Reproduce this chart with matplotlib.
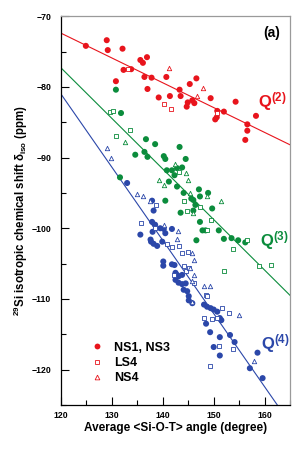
import matplotlib
matplotlib.use("Agg")
import matplotlib.pyplot as plt
from matplotlib.ticker import MultipleLocator
from matplotlib.lines import Line2D

plt.rcParams['font.family'] = ['Liberation Sans', 'DejaVu Sans']
plt.rcParams['mathtext.fontset'] = 'custom'
plt.rcParams['mathtext.rm'] = 'Liberation Sans'
plt.rcParams['mathtext.bf'] = 'Liberation Sans:bold'
plt.rcParams['mathtext.it'] = 'Liberation Sans:italic:bold'

RED = '#e8141c'
GREEN = '#0b8c3c'
BLUE = '#2b47a9'

# ---------------- Q(2) (red) ----------------
q2_ns13_x = [124.9, 129.0, 129.2, 132.1, 132.3, 133.8, 135.6, 136.1, 136.9, 136.4, 137.8, 130.8,
             137.0, 139.2, 140.7, 141.4, 143.3, 143.5, 145.3, 146.6, 144.9, 144.7, 145.8, 146.2,
             149.4, 154.3, 150.7, 152.0, 150.6, 150.3, 158.3, 156.6, 156.6, 156.2]
q2_ns13_y = [-74.2, -73.4, -74.8, -74.6, -77.6, -77.5, -76.2, -76.6, -75.8, -78.6, -78.7, -79.2,
             -80.3, -81.5, -78.6, -81.3, -80.4, -81.3, -79.6, -78.8, -82.2, -82.8, -81.9, -82.3,
             -81.6, -82.1, -83.4, -83.5, -84.3, -84.6, -84.1, -85.3, -86.2, -87.5]
q2_ls4_x = [133.2, 140.3, 141.6, 150.7]
q2_ls4_y = [-77.5, -82.4, -83.1, -83.7]
q2_ns4_x = [141.2, 147.9, 146.8]
q2_ns4_y = [-77.4, -80.1, -81.3]

# ---------------- Q(3) (green) ----------------
q3_ns13_x = [130.8, 131.8, 136.7, 138.5, 143.3, 131.6, 134.6, 136.4, 137.0,
             140.2, 140.5, 144.5, 140.8, 141.8, 142.8, 143.8, 142.3, 141.2, 142.8, 144.1,
             140.5, 143.5, 145.6, 146.0, 147.1, 147.3, 148.9, 146.4, 146.0, 147.3, 147.8,
             148.4, 151.0, 146.6, 152.0, 153.5, 154.8, 156.2, 149.7]
q3_ns13_y = [-80.4, -83.7, -87.4, -88.1, -88.5, -92.8, -89.6, -89.2, -89.9,
             -89.8, -90.2, -90.2, -91.8, -91.8, -91.5, -91.4, -92.5, -93.4, -94.1, -95.0,
             -96.1, -97.8, -95.8, -96.0, -94.5, -95.5, -95.0, -96.7, -97.5, -99.1, -100.3,
             -100.3, -100.3, -101.7, -101.5, -101.4, -101.7, -102.0, -97.2]
q3_ls4_x = [129.7, 130.3, 133.6, 130.8, 143.1, 144.1, 144.8, 147.3, 149.5, 148.7,
            156.6, 153.7, 152.0, 158.9, 161.2]
q3_ls4_y = [-83.5, -83.4, -86.1, -87.0, -92.1, -96.2, -97.5, -97.0, -98.8, -100.2,
            -101.7, -102.9, -106.1, -105.4, -105.2]
q3_ns4_x = [132.5, 142.5, 144.5, 144.9, 139.2, 140.2, 145.4, 148.6, 151.4, 146.0]
q3_ns4_y = [-87.8, -90.9, -92.2, -93.2, -93.2, -93.9, -95.0, -95.5, -96.2, -97.9]

# ---------------- Q(4) (blue) ----------------
q4_ns13_x = [133.0, 135.6, 137.6, 137.9, 138.2, 137.9, 138.5, 138.0, 137.7, 138.2, 138.9,
             139.5, 139.9, 140.2, 140.5, 141.8, 140.1, 140.1, 141.8, 142.3, 142.5, 142.8,
             143.1, 143.8, 142.5, 143.1, 143.8, 144.1, 144.8, 144.5, 145.1, 145.1, 145.8,
             148.1, 148.7, 149.4, 150.0, 150.7, 151.2, 151.5, 148.5, 149.3, 151.2, 153.2,
             154.1, 150.0, 151.2, 158.6, 157.1, 159.6]
q4_ns13_y = [-93.6, -100.9, -101.6, -96.1, -97.5, -99.1, -99.5, -100.5, -101.9, -102.2, -102.5,
             -100.0, -101.9, -100.1, -100.7, -100.1, -104.7, -105.3, -105.1, -105.2, -106.3, -106.6,
             -106.8, -106.6, -107.3, -107.7, -107.9, -108.7, -108.9, -107.8, -109.6, -110.2, -110.6,
             -110.8, -111.1, -111.3, -111.5, -111.8, -112.7, -113.0, -113.5, -114.7, -115.4, -115.1,
             -116.1, -116.8, -118.0, -117.6, -119.8, -121.2]
q4_ls4_x = [135.7, 138.7, 138.5, 140.8, 141.8, 143.1, 143.8, 144.9, 142.2, 144.1, 144.5,
            145.1, 146.1, 148.4, 148.7, 148.1, 149.7, 150.7, 151.7, 153.0, 151.0, 153.7, 149.3]
q4_ls4_y = [-99.3, -96.7, -100.0, -102.2, -102.6, -102.5, -103.5, -103.4, -106.6, -105.4, -106.0,
            -105.6, -107.7, -109.4, -109.6, -112.7, -112.8, -112.7, -111.3, -112.0, -116.6, -117.1, -119.5]
q4_ns4_x = [129.1, 129.8, 134.9, 136.1, 137.4, 140.2, 142.9, 142.8, 145.8, 146.2, 145.3,
            146.1, 145.8, 148.1, 149.3, 145.8, 155.0, 157.9]
q4_ns4_y = [-88.7, -90.1, -95.2, -95.4, -96.2, -99.5, -100.4, -101.5, -103.5, -104.5, -105.6,
            -106.6, -107.5, -108.2, -108.2, -110.5, -112.2, -118.8]

# ---------------- linear fits ----------------
fit_x = [120, 165]
q2_fit = [-72.4, -88.2]
q3_fit = [-77.3, -109.5]
q4_fit = [-81.0, -127.6]

x_ticks = [120, 130, 140, 150, 160]
y_ticks = [-70, -80, -90, -100, -110, -120]

fig = plt.figure(figsize=(3.0, 4.49), dpi=100)
ax = fig.add_axes([0.203, 0.098, 0.764, 0.866])

s_circ, s_sq, s_tri = 19, 10, 10
groups = [
    (RED, q2_ns13_x, q2_ns13_y, q2_ls4_x, q2_ls4_y, q2_ns4_x, q2_ns4_y, q2_fit),
    (GREEN, q3_ns13_x, q3_ns13_y, q3_ls4_x, q3_ls4_y, q3_ns4_x, q3_ns4_y, q3_fit),
    (BLUE, q4_ns13_x, q4_ns13_y, q4_ls4_x, q4_ls4_y, q4_ns4_x, q4_ns4_y, q4_fit),
]
for c, cx, cy, sx, sy, tx, ty, fit in groups:
    ax.plot(fit_x, fit, color=c, lw=0.8, zorder=2)
    ax.scatter(cx, cy, s=s_circ, color=c, edgecolors='none', zorder=3)
    ax.scatter(sx, sy, s=s_sq, marker='s', facecolors='white', edgecolors=c, linewidths=0.6, zorder=3)
    ax.scatter(tx, ty, s=s_tri, marker='^', facecolors='white', edgecolors=c, linewidths=0.6, zorder=3)

ax.set_xlim(120, 165)
ax.set_ylim(-125, -70)
ax.set_xticks(x_ticks)
ax.set_yticks(y_ticks)
ax.xaxis.set_minor_locator(MultipleLocator(5))
ax.yaxis.set_minor_locator(MultipleLocator(5))
ax.tick_params(which='both', direction='in', top=False, right=False, width=0.8)
ax.tick_params(which='major', length=6)
ax.tick_params(which='minor', length=3.5)
ax.tick_params(axis='y', pad=7)
ax.tick_params(axis='x', pad=4)
for lab in ax.get_xticklabels() + ax.get_yticklabels():
    lab.set_fontweight('bold')
    lab.set_fontsize(6.3)
for sp in ['left', 'bottom']:
    ax.spines[sp].set_linewidth(0.9)
for sp in ['top', 'right']:
    ax.spines[sp].set_color('#9a9a9a')
    ax.spines[sp].set_linewidth(0.9)

ax.set_xlabel('Average <Si-O-T> angle (degree)', fontsize=8.5, fontweight='bold', labelpad=2)
ax.set_ylabel(r'$\mathbf{^{29}}$Si isotropic chemical shift $\mathbf{\delta_{iso}}$ (ppm)',
              fontsize=8.3, fontweight='bold')
ax.yaxis.set_label_coords(-0.135, 0.5)

ax.text(0.955, 0.975, '(a)', transform=ax.transAxes, ha='right', va='top',
        fontsize=10, fontweight='bold')

ax.text(158.7, -82.9, r'$\mathbf{Q^{(2)}}$', color=RED, fontsize=12, va='baseline')
ax.text(159.1, -102.6, r'$\mathbf{Q^{(3)}}$', color=GREEN, fontsize=12, va='baseline')
ax.text(159.3, -117.2, r'$\mathbf{Q^{(4)}}$', color=BLUE, fontsize=12, va='baseline')

handles = [
    Line2D([], [], ls='none', marker='o', ms=4.2, color=RED, mec='none'),
    Line2D([], [], ls='none', marker='s', ms=3.4, mfc='white', mec=RED, mew=0.6),
    Line2D([], [], ls='none', marker='^', ms=3.4, mfc='white', mec=RED, mew=0.6),
]
leg = ax.legend(handles, ['NS1, NS3', 'LS4', 'NS4'], loc='lower left',
                bbox_to_anchor=(0.08, 0.025), frameon=False, handlelength=1.0,
                handletextpad=0.9, labelspacing=0.25, prop={'weight': 'bold', 'size': 9})

fig.savefig('out.png', dpi=100)
